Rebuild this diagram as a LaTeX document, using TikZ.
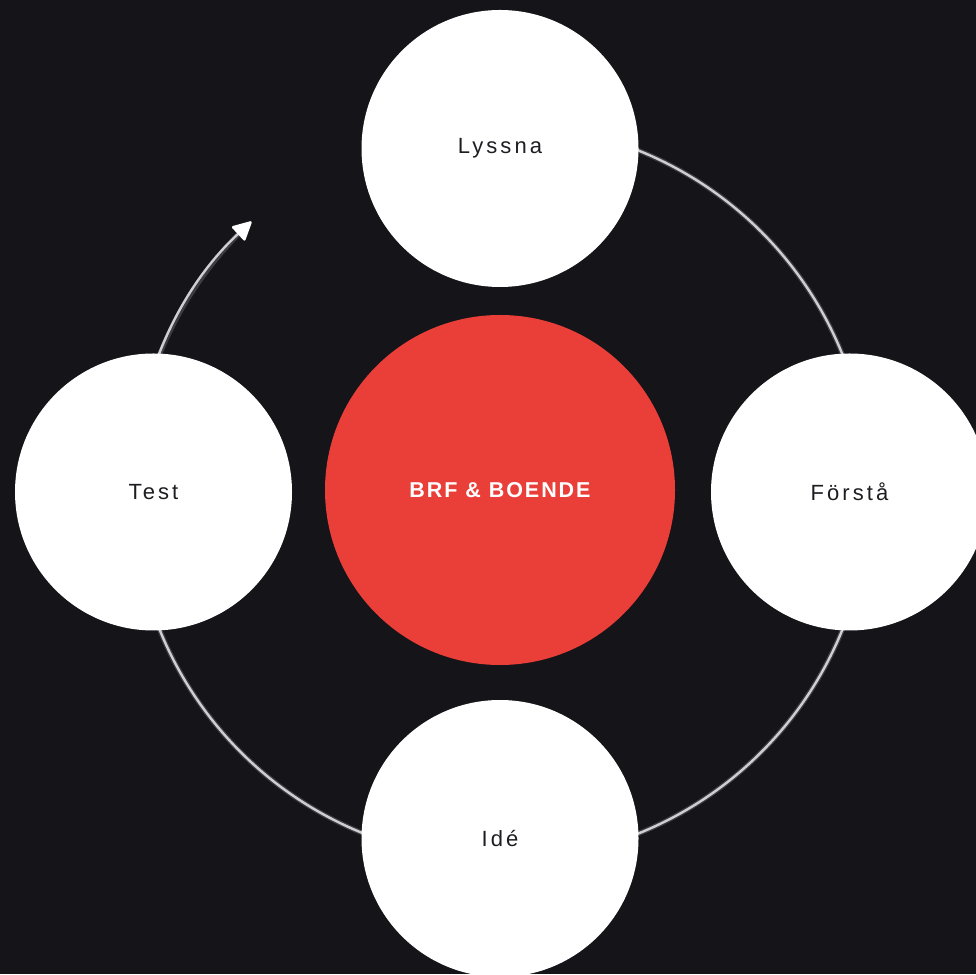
\documentclass[tikz,border=0pt]{standalone}
\usepackage{fontspec}
\setmainfont{Liberation Sans}
\newfontfamily\labelfont[LetterSpace=14]{Liberation Sans}
\newfontfamily\centerfont[LetterSpace=9]{Liberation Sans}
\usetikzlibrary{arrows.meta,calc}
\definecolor{bg}{HTML}{141419}
\definecolor{brfred}{HTML}{EA3E38}
\definecolor{ringcol}{HTML}{CFCFD1}
\definecolor{glow}{HTML}{3C3C42}
\definecolor{txt}{HTML}{1E1E22}
\tikzset{
  stage/.style={circle, fill=white, minimum size=277pt, inner sep=0pt,
    text=txt, font=\labelfont\fontsize{22}{26}\selectfont},
  core/.style={circle, fill=brfred, minimum size=350pt, inner sep=0pt,
    text=white, font=\centerfont\bfseries\fontsize{21.5}{25}\selectfont},
  ringglow/.style={draw=glow, line width=5pt},
  ring/.style={draw=ringcol, line width=2.4pt},
}
\begin{document}
\begin{tikzpicture}[x=1pt,y=1pt]
\fill[bg] (0,0) rectangle (976,974);
\useasboundingbox (0,0) rectangle (976,974);
\coordinate (rc) at (501,482);
% ring
\draw[ringglow] (rc) ++(90:368) arc[start angle=90, end angle=-224.8, radius=368];
\draw[ring, -{Triangle[length=20pt,width=20pt,round,color=white]}] (rc) ++(90:368) arc[start angle=90, end angle=-227.3, radius=368] coordinate (tip);
% circles
\node[stage] (lyssna) at (500,825.5) {Lyssna};
\node[stage] (test) at (153.5,482) {Test};
\node[stage] (forsta) at (849.5,482) {Förstå};
\node[stage] (ide) at (500,135.5) {Idé};
\node[core] (brf) at (500,484) {BRF \& BOENDE};
\end{tikzpicture}
\end{document}
